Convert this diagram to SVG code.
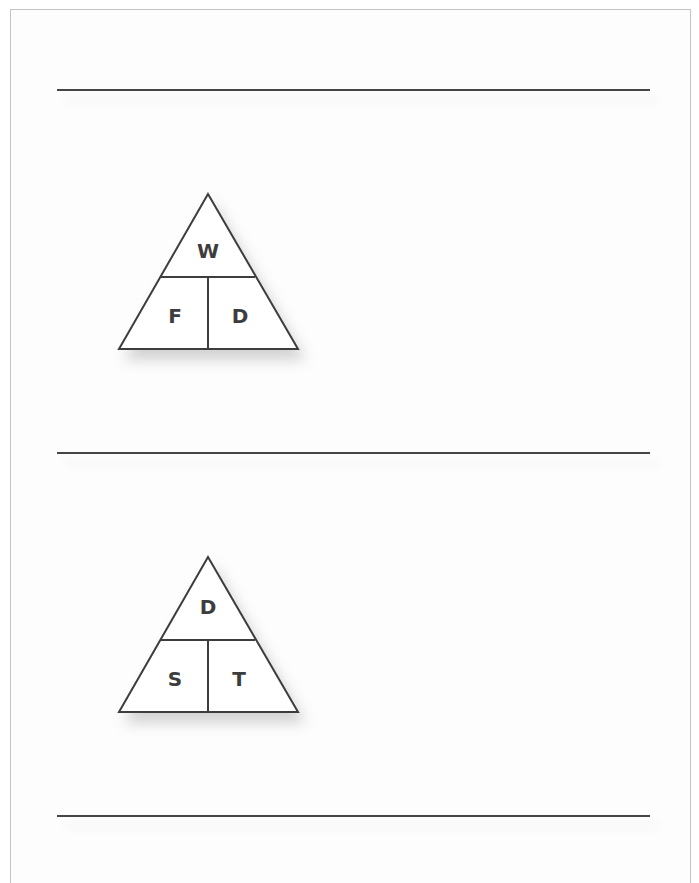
<svg xmlns="http://www.w3.org/2000/svg" width="699" height="883" viewBox="0 0 699 883">
<defs>
<filter id="sh" x="-20%" y="-20%" width="160%" height="170%">
<feDropShadow dx="6" dy="10" stdDeviation="7" flood-color="#000" flood-opacity="0.17"/>
</filter>
<filter id="lsh" filterUnits="userSpaceOnUse" x="0" y="0" width="699" height="883">
<feDropShadow dx="8" dy="10" stdDeviation="5" flood-color="#000" flood-opacity="0.08"/>
</filter>
</defs>
<style>
.rule{stroke:#444;stroke-width:2;fill:none}
.tri{fill:#fff;stroke:#3d3d3d;stroke-width:2;stroke-linejoin:miter}
.div{stroke:#3d3d3d;stroke-width:2;fill:none}
.lbl{font-family:"DejaVu Sans","Liberation Sans",sans-serif;font-weight:700;font-size:20px;fill:#3d3d3d;text-anchor:middle}
</style>
<rect x="0" y="0" width="699" height="883" fill="#fff"/>
<rect x="10.5" y="9.5" width="680" height="900" fill="#fdfdfd" stroke="#c4c4c4" stroke-width="1"/>
<g id="rules">
<line class="rule" x1="57" y1="90" x2="650" y2="90" filter="url(#lsh)"/>
<line class="rule" x1="57" y1="453" x2="650" y2="453" filter="url(#lsh)"/>
<line class="rule" x1="57" y1="816" x2="650" y2="816" filter="url(#lsh)"/>
</g>
<g id="triangle1">
<polygon class="tri" points="208,194 298,349 119,349" filter="url(#sh)"/>
<line class="div" x1="161" y1="277" x2="255" y2="277"/>
<line class="div" x1="208" y1="277" x2="208" y2="349"/>
<text class="lbl" x="208" y="258">W</text>
<text class="lbl" x="175" y="323">F</text>
<text class="lbl" x="240" y="323">D</text>
</g>
<g id="triangle2">
<polygon class="tri" points="208,557 298,712 119,712" filter="url(#sh)"/>
<line class="div" x1="161" y1="640" x2="255" y2="640"/>
<line class="div" x1="208" y1="640" x2="208" y2="712"/>
<text class="lbl" x="208" y="614">D</text>
<text class="lbl" x="175" y="686">S</text>
<text class="lbl" x="239" y="686">T</text>
</g>
</svg>
